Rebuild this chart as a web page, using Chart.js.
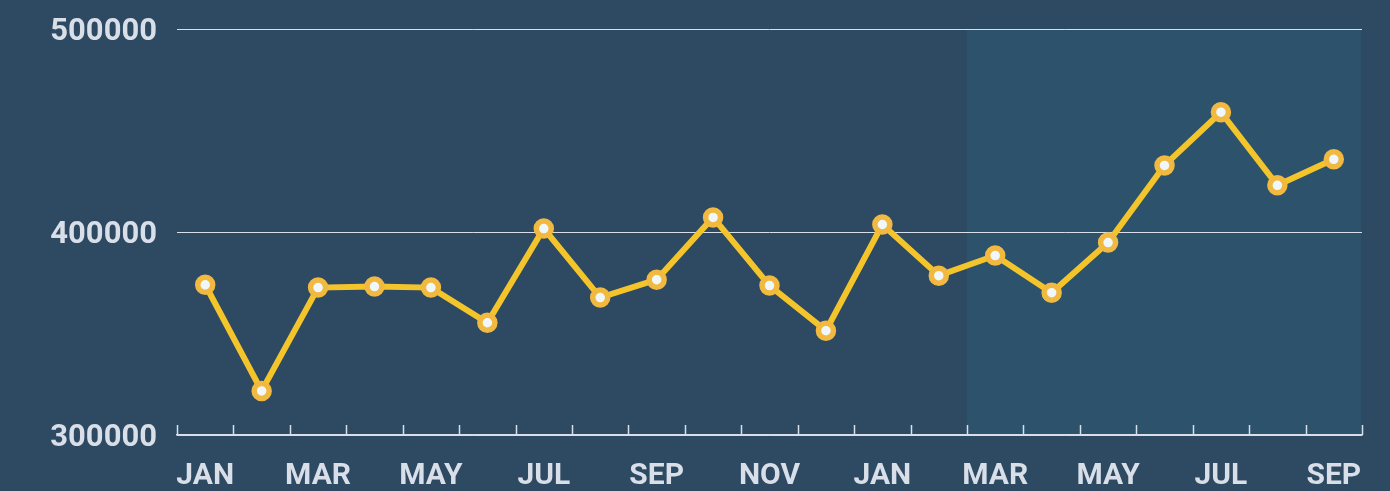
<!DOCTYPE html>
<html>
<head>
<meta charset="utf-8">
<script src="https://cdn.jsdelivr.net/npm/chart.js@4/dist/chart.umd.min.js"></script>
<style>
  html, body { margin: 0; padding: 0; background: #2e4962; }
  #wrap { width: 1390px; height: 491px; position: relative; }
</style>
</head>
<body>
<div id="wrap"><canvas id="chart"></canvas></div>
<script>
const months = ['JAN', 'FEB', 'MAR', 'APR', 'MAY', 'JUN', 'JUL', 'AUG', 'SEP', 'OCT', 'NOV', 'DEC',
                'JAN', 'FEB', 'MAR', 'APR', 'MAY', 'JUN', 'JUL', 'AUG', 'SEP'];
const values = [374000, 321700, 372600, 373100, 372600, 355300, 401700, 367700, 376500, 407200, 373600,
                351400, 403700, 378500, 388400, 370100, 394800, 432800, 459000, 423000, 435800];
const yTicks = [300000, 400000, 500000];
const highlightFrom = 14; // second MAR onward is shaded

const textColor = '#d8dfe8';
const lineColor = '#f4c52b';

// shaded band (under the grid) and little upward tick marks on the x axis
const extras = {
    id: 'extras',
    beforeDraw(chart) {
        const { ctx, chartArea, scales: { x } } = chart;
        const start = (x.getPixelForValue(highlightFrom - 1) + x.getPixelForValue(highlightFrom)) / 2;
        ctx.save();
        ctx.fillStyle = '#2d526c';
        ctx.fillRect(start, chartArea.top, chartArea.right - start - 1, chartArea.bottom - chartArea.top);
        ctx.restore();
    },
    beforeDatasetsDraw(chart) {
        const { ctx, chartArea, scales: { x } } = chart;
        ctx.save();
        ctx.strokeStyle = textColor;
        ctx.lineWidth = 1.5;
        const half = (x.getPixelForValue(1) - x.getPixelForValue(0)) / 2;
        for (let i = 0; i <= months.length; i++) {
            const px = Math.round(x.getPixelForValue(0) - half + i * half * 2) + 0.5;
            ctx.beginPath();
            ctx.moveTo(px, chartArea.bottom);
            ctx.lineTo(px, chartArea.bottom - 10);
            ctx.stroke();
        }
        ctx.restore();
    }
};

new Chart(document.getElementById('chart'), {
    type: 'line',
    data: {
        labels: months,
        datasets: [{
            data: values,
            borderColor: lineColor,
            borderWidth: 6,
            tension: 0,
            pointRadius: 7.5,
            pointBorderWidth: 5.5,
            pointBackgroundColor: '#eff7fb',
            pointBorderColor: '#f1b940',
            pointHoverRadius: 7.5
        }]
    },
    options: {
        responsive: true,
        maintainAspectRatio: false,
        animation: false,
        layout: { padding: { top: 29, right: 28, left: 0, bottom: 0 } },
        plugins: { legend: { display: false }, tooltip: { enabled: false } },
        scales: {
            x: {
                offset: true,
                grid: { display: false, offset: true },
                border: { display: true, color: textColor, width: 1.5 },
                ticks: {
                    color: textColor,
                    font: { family: 'Roboto', weight: 'bold', size: 30 },
                    autoSkip: false,
                    maxRotation: 0,
                    padding: 15,
                    callback: (v, i) => (i % 2 === 0 ? months[i] : '')
                },
                afterFit: s => { s.height = 56; s.paddingLeft = 0; s.paddingRight = 0; }
            },
            y: {
                min: 300000,
                max: 500000,
                afterBuildTicks: s => { s.ticks = yTicks.map(v => ({ value: v })); },
                grid: { color: textColor, lineWidth: 1, drawTicks: false },
                border: { display: false },
                ticks: {
                    color: textColor,
                    font: { family: 'Roboto', weight: 'bold', size: 31 },
                    padding: 20,
                    labelOffset: 3,
                    callback: v => String(v)
                },
                afterFit: s => { s.width = 177; s.paddingTop = 0; s.paddingBottom = 0; }
            }
        }
    },
    plugins: [extras]
});
</script>
</body>
</html>
